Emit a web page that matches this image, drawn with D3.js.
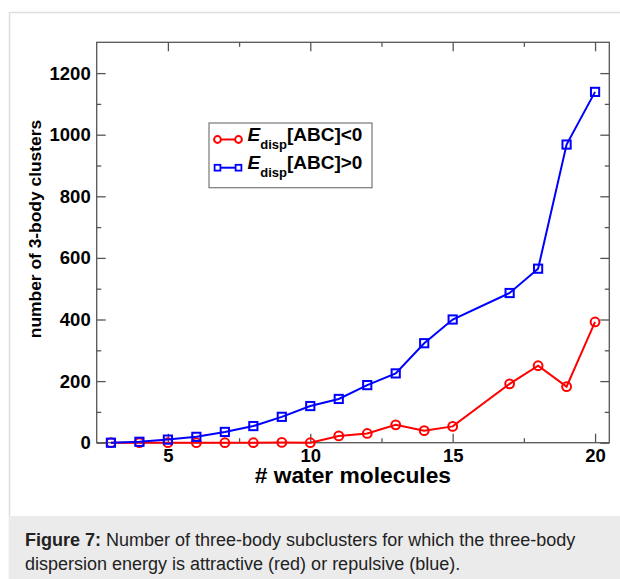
<!DOCTYPE html>
<html>
<head>
<meta charset="utf-8">
<script src="https://cdn.jsdelivr.net/npm/d3@7"></script>
<style>
  html, body { margin: 0; padding: 0; background: #fff; }
  svg { display: block; }
</style>
</head>
<body>
<svg id="chart" width="620" height="579"></svg>
<script>
// ---- data ----
const nWater = [3, 4, 5, 6, 7, 8, 9, 10, 11, 12, 13, 14, 15, 17, 18, 19, 20];
const attractive = [0, 0, 0, 0, 0, 0, 1, 0, 22, 30, 58, 39, 53, 191, 250, 182, 392];
const repulsive = [0, 3, 10, 19, 35, 54, 84, 119, 142, 187, 225, 323, 400, 486, 565, 968, 1139];
const xMajorTicks = [5, 10, 15, 20];
const xMinorTicks = [7.5, 12.5, 17.5];
const yMajorTicks = [0, 200, 400, 600, 800, 1000, 1200];
const yMinorTicks = [100, 300, 500, 700, 900, 1100];
const seriesNames = ["<0", ">0"];
const xLabel = "# water molecules";
const yLabel = "number of 3-body clusters";
const captionBold = "Figure 7:";
const captionLine1 = " Number of three-body subclusters for which the three-body";
const captionLine2 = "dispersion energy is attractive (red) or repulsive (blue).";

// ---- layout ----
const svg = d3.select("#chart");
const L = 96.7, R = 609.3, T = 42.3, B = 442.7;
const x = d3.scaleLinear().domain([2.5, 20.5]).range([L, R]);
const y = d3.scaleLinear().domain([0, 1300]).range([B, T]);
const FONT = "'Liberation Sans', Arial, Helvetica, sans-serif";
const frameColor = "#555";

// outer page border
svg.append("path").attr("d", "M9.5,579 V12.5 H620")
  .attr("fill", "none").attr("stroke", "#dedede").attr("stroke-width", 1.5);
// caption box
svg.append("rect").attr("x", 9).attr("y", 516).attr("width", 611).attr("height", 63)
  .attr("fill", "#ebebeb");
const cap = svg.append("text").attr("font-family", FONT).attr("font-size", 18).attr("fill", "#222");
cap.append("tspan").attr("x", 25).attr("y", 546).attr("font-weight", "bold").text(captionBold);
cap.append("tspan").text(captionLine1);
svg.append("text").attr("font-family", FONT).attr("font-size", 18).attr("fill", "#222")
  .attr("x", 25).attr("y", 569.5).text(captionLine2);

// axes helper
function styleAxis(g, showText) {
  g.select(".domain").remove();
  g.selectAll(".tick line").attr("stroke", frameColor).attr("stroke-width", 1.3);
  g.selectAll(".tick text").attr("font-family", FONT).attr("font-weight", "bold")
    .attr("font-size", 18.5).attr("fill", "#000");
  if (!showText) g.selectAll(".tick text").remove();
}
// bottom
svg.append("g").attr("transform", `translate(0,${B})`)
  .call(d3.axisBottom(x).tickValues(xMajorTicks).tickFormat(d3.format("d")).tickSize(-9).tickPadding(6.5))
  .call(g => styleAxis(g, true));
svg.append("g").attr("transform", `translate(0,${B})`)
  .call(d3.axisBottom(x).tickValues(xMinorTicks).tickSize(-4.5))
  .call(g => styleAxis(g, false));
// top
svg.append("g").attr("transform", `translate(0,${T})`)
  .call(d3.axisTop(x).tickValues(xMajorTicks).tickSize(-9))
  .call(g => styleAxis(g, false));
svg.append("g").attr("transform", `translate(0,${T})`)
  .call(d3.axisTop(x).tickValues(xMinorTicks).tickSize(-4.5))
  .call(g => styleAxis(g, false));
// left
svg.append("g").attr("transform", `translate(${L},0)`)
  .call(d3.axisLeft(y).tickValues(yMajorTicks).tickFormat(d3.format("d")).tickSize(-9).tickPadding(6))
  .call(g => styleAxis(g, true));
svg.append("g").attr("transform", `translate(${L},0)`)
  .call(d3.axisLeft(y).tickValues(yMinorTicks).tickSize(-4.5))
  .call(g => styleAxis(g, false));
// right
svg.append("g").attr("transform", `translate(${R},0)`)
  .call(d3.axisRight(y).tickValues(yMajorTicks).tickSize(-9))
  .call(g => styleAxis(g, false));
svg.append("g").attr("transform", `translate(${R},0)`)
  .call(d3.axisRight(y).tickValues(yMinorTicks).tickSize(-4.5))
  .call(g => styleAxis(g, false));

// frame
svg.append("rect").attr("x", L).attr("y", T).attr("width", R - L).attr("height", B - T)
  .attr("fill", "none").attr("stroke", frameColor).attr("stroke-width", 1.3);

// axis labels
svg.append("text").attr("x", (254 + 451.7) / 2).attr("y", 483)
  .attr("text-anchor", "middle").attr("font-family", FONT).attr("font-weight", "bold")
  .attr("font-size", 22.8).attr("fill", "#000").text(xLabel);
svg.append("text").attr("transform", "translate(40.5,229) rotate(-90)")
  .attr("text-anchor", "middle").attr("font-family", FONT).attr("font-weight", "bold")
  .attr("font-size", 17.4).attr("fill", "#000").text(yLabel);

// series
const line = d3.line().x(d => x(d[0])).y(d => y(d[1]));
const redData = nWater.map((n, i) => [n, attractive[i]]);
const blueData = nWater.map((n, i) => [n, repulsive[i]]);

svg.append("path").datum(redData).attr("d", line)
  .attr("fill", "none").attr("stroke", "#ff0000").attr("stroke-width", 2);
svg.append("g").selectAll("circle").data(redData).join("circle")
  .attr("cx", d => x(d[0])).attr("cy", d => y(d[1])).attr("r", 4.4)
  .attr("fill", "none").attr("stroke", "#ff0000").attr("stroke-width", 2);

svg.append("path").datum(blueData).attr("d", line)
  .attr("fill", "none").attr("stroke", "#0000ff").attr("stroke-width", 2);
const sq = 8.2;
svg.append("g").selectAll("rect").data(blueData).join("rect")
  .attr("x", d => x(d[0]) - sq / 2).attr("y", d => y(d[1]) - sq / 2)
  .attr("width", sq).attr("height", sq)
  .attr("fill", "none").attr("stroke", "#0000ff").attr("stroke-width", 2);

// legend
const lg = svg.append("g");
lg.append("rect").attr("x", 209).attr("y", 123).attr("width", 163).attr("height", 64.7)
  .attr("fill", "#fff").attr("stroke", "#777").attr("stroke-width", 1.2);
const rows = [
  { name: seriesNames[0], color: "#ff0000", shape: "circle", yc: 139.5, base: 141 },
  { name: seriesNames[1], color: "#0000ff", shape: "square", yc: 167.7, base: 168.5 }
];
rows.forEach(r => {
  lg.append("line").attr("x1", 217.5).attr("x2", 238.5).attr("y1", r.yc).attr("y2", r.yc)
    .attr("stroke", r.color).attr("stroke-width", 2);
  [217.5, 238.5].forEach(cx => {
    if (r.shape === "circle") {
      lg.append("circle").attr("cx", cx).attr("cy", r.yc).attr("r", 3.4)
        .attr("fill", "#fff").attr("stroke", r.color).attr("stroke-width", 2);
    } else {
      lg.append("rect").attr("x", cx - 2.9).attr("y", r.yc - 2.9).attr("width", 5.8).attr("height", 5.8)
        .attr("fill", "#fff").attr("stroke", r.color).attr("stroke-width", 1.8);
    }
  });
  const t = lg.append("text").attr("x", 247.5).attr("y", r.base).attr("font-family", FONT)
    .attr("font-weight", "bold").attr("font-size", 19).attr("fill", "#000");
  t.append("tspan").attr("font-style", "italic").text("E");
  t.append("tspan").attr("font-size", 13).attr("dy", 8.3).text("disp");
  t.append("tspan").attr("dy", -8.3).text("[ABC]" + r.name);
});
</script>
</body>
</html>
